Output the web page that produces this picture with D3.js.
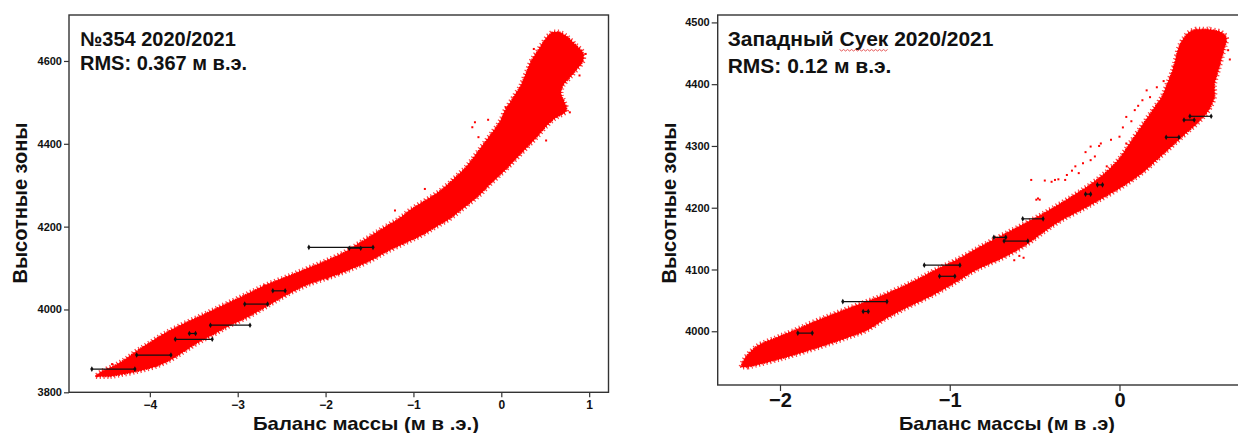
<!DOCTYPE html>
<html>
<head>
<meta charset="utf-8">
<script src="https://cdn.jsdelivr.net/npm/d3@7"></script>
<style>
  body { margin: 0; background: #fff; }
  text { font-family: "Liberation Sans", Arial, sans-serif; font-weight: bold; fill: #111; }
</style>
</head>
<body>
<script>
// ---- left panel (№354) ----
var leftXTicks = [-4, -3, -2, -1, 0, 1];
var leftYTicks = [3800, 4000, 4200, 4400, 4600];
// point cloud envelope: elevation, min balance, max balance
var leftElev = [3838, 3850, 3865, 3880, 3900, 3920, 3940, 3960, 3980, 4000, 4020, 4040, 4060, 4080, 4100, 4120, 4140, 4160, 4180, 4200,
  4220, 4240, 4260, 4280, 4300, 4320, 4340, 4360, 4380, 4400, 4420, 4440, 4460, 4480, 4500, 4520, 4540, 4560, 4580, 4600, 4620, 4640, 4660, 4670];
var leftLo = [-4.62, -4.55, -4.40, -4.28, -4.15, -4.00, -3.85, -3.67, -3.47, -3.27, -3.07, -2.87, -2.67, -2.43, -2.20, -1.97, -1.77, -1.62, -1.47, -1.32,
  -1.16, -1.04, -0.89, -0.74, -0.62, -0.52, -0.42, -0.34, -0.27, -0.20, -0.13, -0.06, 0.00, 0.04, 0.10, 0.16, 0.22, 0.26, 0.30, 0.34, 0.40, 0.46, 0.53, 0.58];
var leftHi = [-4.45, -4.15, -3.90, -3.75, -3.60, -3.45, -3.27, -3.10, -2.90, -2.73, -2.57, -2.40, -2.20, -1.92, -1.68, -1.47, -1.30, -1.10, -0.90, -0.74,
  -0.58, -0.46, -0.34, -0.23, -0.14, -0.04, 0.06, 0.15, 0.24, 0.33, 0.42, 0.50, 0.60, 0.74, 0.72, 0.68, 0.70, 0.78, 0.86, 0.93, 0.93, 0.84, 0.74, 0.66];
// scattered points outside the dense cloud
var leftOutX = [-0.87, -0.26, -0.15, 0.05, 0.78, 0.73, -1.21, -1.85, -2.80, -3.93, -4.43, 0.37, 0.96, 0.89, 0.51, 0.28, -0.33, -0.30, -4.55, -4.40, -1.98, -2.70];
var leftOutE = [4291, 4416, 4458, 4488, 4476, 4492, 4239, 4086, 3997, 3864, 3868, 4629, 4617, 4565, 4408, 4488, 4440, 4452, 3842, 3846, 4074, 4058];
// horizontal error bars
var leftBarE = [3856, 3890, 3928, 3942, 3962, 4013, 4045, 4150, 4148];
var leftBarA = [-4.66, -4.15, -3.71, -3.55, -3.31, -2.92, -2.60, -2.19, -1.73];
var leftBarB = [-4.17, -3.76, -3.29, -3.48, -2.86, -2.66, -2.46, -1.46, -1.60];

// ---- right panel (Западный Суек) ----
var rightXTicks = [-2, -1, 0];
var rightYTicks = [4000, 4100, 4200, 4300, 4400, 4500];
var rightElev = [3942, 3955, 3975, 3990, 4000, 4020, 4040, 4060, 4080, 4100, 4120, 4140, 4160, 4180, 4200, 4220, 4240, 4260, 4280, 4300,
  4320, 4340, 4360, 4380, 4400, 4420, 4440, 4460, 4475, 4484, 4489];
var rightLo = [-2.23, -2.21, -2.14, -2.02, -1.93, -1.76, -1.57, -1.38, -1.22, -1.08, -0.93, -0.80, -0.66, -0.52, -0.39, -0.27, -0.16, -0.07, 0.00, 0.05,
  0.10, 0.15, 0.20, 0.25, 0.28, 0.31, 0.33, 0.35, 0.38, 0.41, 0.45];
var rightHi = [-2.19, -2.00, -1.76, -1.60, -1.50, -1.38, -1.24, -1.09, -0.96, -0.84, -0.68, -0.55, -0.45, -0.34, -0.20, -0.07, 0.05, 0.15, 0.23, 0.31,
  0.39, 0.47, 0.53, 0.56, 0.56, 0.58, 0.60, 0.62, 0.63, 0.60, 0.52];
var rightOutX = [-0.40, -0.38, -0.31, -0.26, -0.24, -0.17, -0.145, -0.11, -0.05, 0.00, -0.075, -0.215, 0.04, 0.09, 0.135, 0.18, 0.205, -0.47, -0.48,
  -0.59, -0.565, -0.17, 0.04, 0.135, -0.32, 0.32, 0.30, -0.52, -0.49, -0.44, -0.36, -0.28, -0.20, -0.12, 0.02, 0.07, 0.11, 0.16, 0.22, 0.26, -0.62, -0.66, 0.64, 0.65];
var rightOutE = [4242, 4245, 4253, 4267, 4256, 4299, 4283, 4304, 4310, 4315, 4267, 4272, 4347, 4358, 4374, 4379, 4358, 4213, 4215,
  4122, 4119, 4277, 4304, 4331, 4245, 4428, 4411, 4245, 4213, 4244, 4246, 4260, 4290, 4300, 4330, 4340, 4365, 4390, 4395, 4405, 4115, 4125, 4455, 4440];
var rightBarE = [3997, 4048, 4032, 4107, 4089, 4152, 4146, 4182, 4222, 4237, 4314, 4342, 4348];
var rightBarA = [-1.895, -1.63, -1.51, -1.15, -1.06, -0.74, -0.68, -0.57, -0.20, -0.13, 0.275, 0.38, 0.415];
var rightBarB = [-1.81, -1.37, -1.48, -0.94, -0.97, -0.67, -0.54, -0.45, -0.17, -0.10, 0.35, 0.44, 0.54];

var svg = d3.select("body").append("svg").attr("width", 1238).attr("height", 433);

function drawPanel(p) {
  var g = svg.append("g");
  var x = p.x, y = p.y;
  var band = p.elev.map(function(e, i) { return {e: e, lo: p.lo[i], hi: p.hi[i]}; });

  var area = d3.area()
    .y(function(d) { return y(d.e); })
    .x0(function(d) { return x(d.lo); })
    .x1(function(d) { return x(d.hi); })
    .curve(d3.curveCatmullRom);

  // fuzzy fringe, then the dense core
  g.append("path").datum(band).attr("d", area)
    .attr("fill", "none")
    .attr("stroke", "#ff2020").attr("stroke-width", 5)
    .attr("stroke-dasharray", "1.2 2.6").attr("opacity", 0.85);
  g.append("path").datum(band).attr("d", area)
    .attr("fill", "#ff0000")
    .attr("stroke", "#ff0000").attr("stroke-width", 1.5)
    .attr("stroke-dasharray", "1.4 1.4");

  g.selectAll("rect.pt").data(p.outX).enter().append("rect")
    .attr("class", "pt")
    .attr("x", function(d) { return x(d) - 1; })
    .attr("y", function(d, i) { return y(p.outE[i]) - 1; })
    .attr("width", 2).attr("height", 2)
    .attr("fill", "#ff0000");

  // error bars
  var bars = p.barE.map(function(e, i) { return {e: e, a: p.barA[i], b: p.barB[i]}; });
  g.selectAll("line.bar").data(bars).enter().append("line")
    .attr("class", "bar")
    .attr("x1", function(d) { return x(d.a); })
    .attr("x2", function(d) { return x(d.b); })
    .attr("y1", function(d) { return y(d.e); })
    .attr("y2", function(d) { return y(d.e); })
    .attr("stroke", "#111").attr("stroke-width", 1.2);
  var ends = [];
  bars.forEach(function(d) { ends.push({v: d.a, e: d.e}); ends.push({v: d.b, e: d.e}); });
  g.selectAll("path.mk").data(ends).enter().append("path")
    .attr("class", "mk")
    .attr("d", d3.symbol().type(d3.symbolDiamond).size(9))
    .attr("transform", function(d) { return "translate(" + x(d.v) + "," + y(d.e) + ")"; })
    .attr("fill", "#111");

  // axes
  var xr = x.range(), yr = y.range();
  var ax = g.append("g").attr("transform", "translate(0," + yr[0] + ")")
    .call(d3.axisBottom(x).tickValues(p.xTicks).tickSize(p.tick).tickPadding(p.xPad).tickFormat(d3.format("d")));
  ax.select(".domain").remove();
  ax.selectAll("line").attr("stroke", "#333").attr("stroke-width", 1.2);
  ax.selectAll("text").style("font-size", p.xFont + "px").attr("fill", "#111");

  var ay = g.append("g").attr("transform", "translate(" + xr[0] + ",0)")
    .call(d3.axisLeft(y).tickValues(p.yTicks).tickSize(p.tick).tickPadding(2).tickFormat(d3.format("d")));
  ay.select(".domain").remove();
  ay.selectAll("line").attr("stroke", "#333").attr("stroke-width", 1.2);
  ay.selectAll("text").style("font-size", "11px").attr("fill", "#111");

  g.append("rect")
    .attr("x", xr[0]).attr("y", yr[1])
    .attr("width", xr[1] - xr[0]).attr("height", yr[0] - yr[1])
    .attr("fill", "none").attr("stroke", "#333").attr("stroke-width", 1.4);

  // titles
  var t1 = g.append("text").attr("x", xr[0] + p.titleDx).attr("y", 46)
    .style("font-size", p.titleFont + "px");
  p.title.forEach(function(s) { t1.append("tspan").text(s); });
  g.append("text").attr("x", xr[0] + p.titleDx).attr("y", p.rmsY)
    .style("font-size", p.titleFont + "px").text(p.rms);

  g.append("text").attr("x", p.xLabX).attr("y", 430)
    .attr("text-anchor", "middle").style("font-size", "19px")
    .attr("textLength", p.xLabW).attr("lengthAdjust", "spacingAndGlyphs")
    .text(p.xLabel);
  g.append("text").attr("transform", "translate(" + p.yLabX + ",203) rotate(-90)")
    .attr("text-anchor", "middle").style("font-size", "20px").text("Высотные зоны");
  return t1;
}

var leftTitle = drawPanel({
  x: d3.scaleLinear().domain([-4.92, 1.22]).range([69, 608.5]),
  y: d3.scaleLinear().domain([3800, 4711]).range([392.3, 15]),
  elev: leftElev, lo: leftLo, hi: leftHi, outX: leftOutX, outE: leftOutE,
  barE: leftBarE, barA: leftBarA, barB: leftBarB,
  xTicks: leftXTicks, yTicks: leftYTicks, tick: 5, xPad: 3, xFont: 12,
  title: ["№354 2020/2021"], rms: "RMS: 0.367 м в.э.", titleFont: 20, titleDx: 11, rmsY: 70,
  xLabel: "Баланс массы (м в .э.)", xLabX: 366, xLabW: 226, yLabX: 27
});

var rightTitle = drawPanel({
  x: d3.scaleLinear().domain([-2.367, 0.75]).range([717.7, 1246.8]),
  y: d3.scaleLinear().domain([3913, 4512]).range([385, 15]),
  elev: rightElev, lo: rightLo, hi: rightHi, outX: rightOutX, outE: rightOutE,
  barE: rightBarE, barA: rightBarA, barB: rightBarB,
  xTicks: rightXTicks, yTicks: rightYTicks, tick: 6, xPad: 2, xFont: 20,
  title: ["Западный ", "Суек", " 2020/2021"], rms: "RMS: 0.12 м в.э.", titleFont: 21, titleDx: 10, rmsY: 73,
  xLabel: "Баланс массы (м в .э)", xLabX: 1007, xLabW: 216, yLabX: 676
});

// spell-check squiggle under "Суек"
var word = rightTitle.selectAll("tspan").nodes()[1];
var bx = word.getBBox();
var wave = d3.range(bx.x, bx.x + bx.width, 2).map(function(v, i) { return [v, 50 + (i % 2 ? 1 : -0.5)]; });
svg.append("path").attr("d", d3.line()(wave))
  .attr("fill", "none").attr("stroke", "#e03030").attr("stroke-width", 0.8);
</script>
</body>
</html>
